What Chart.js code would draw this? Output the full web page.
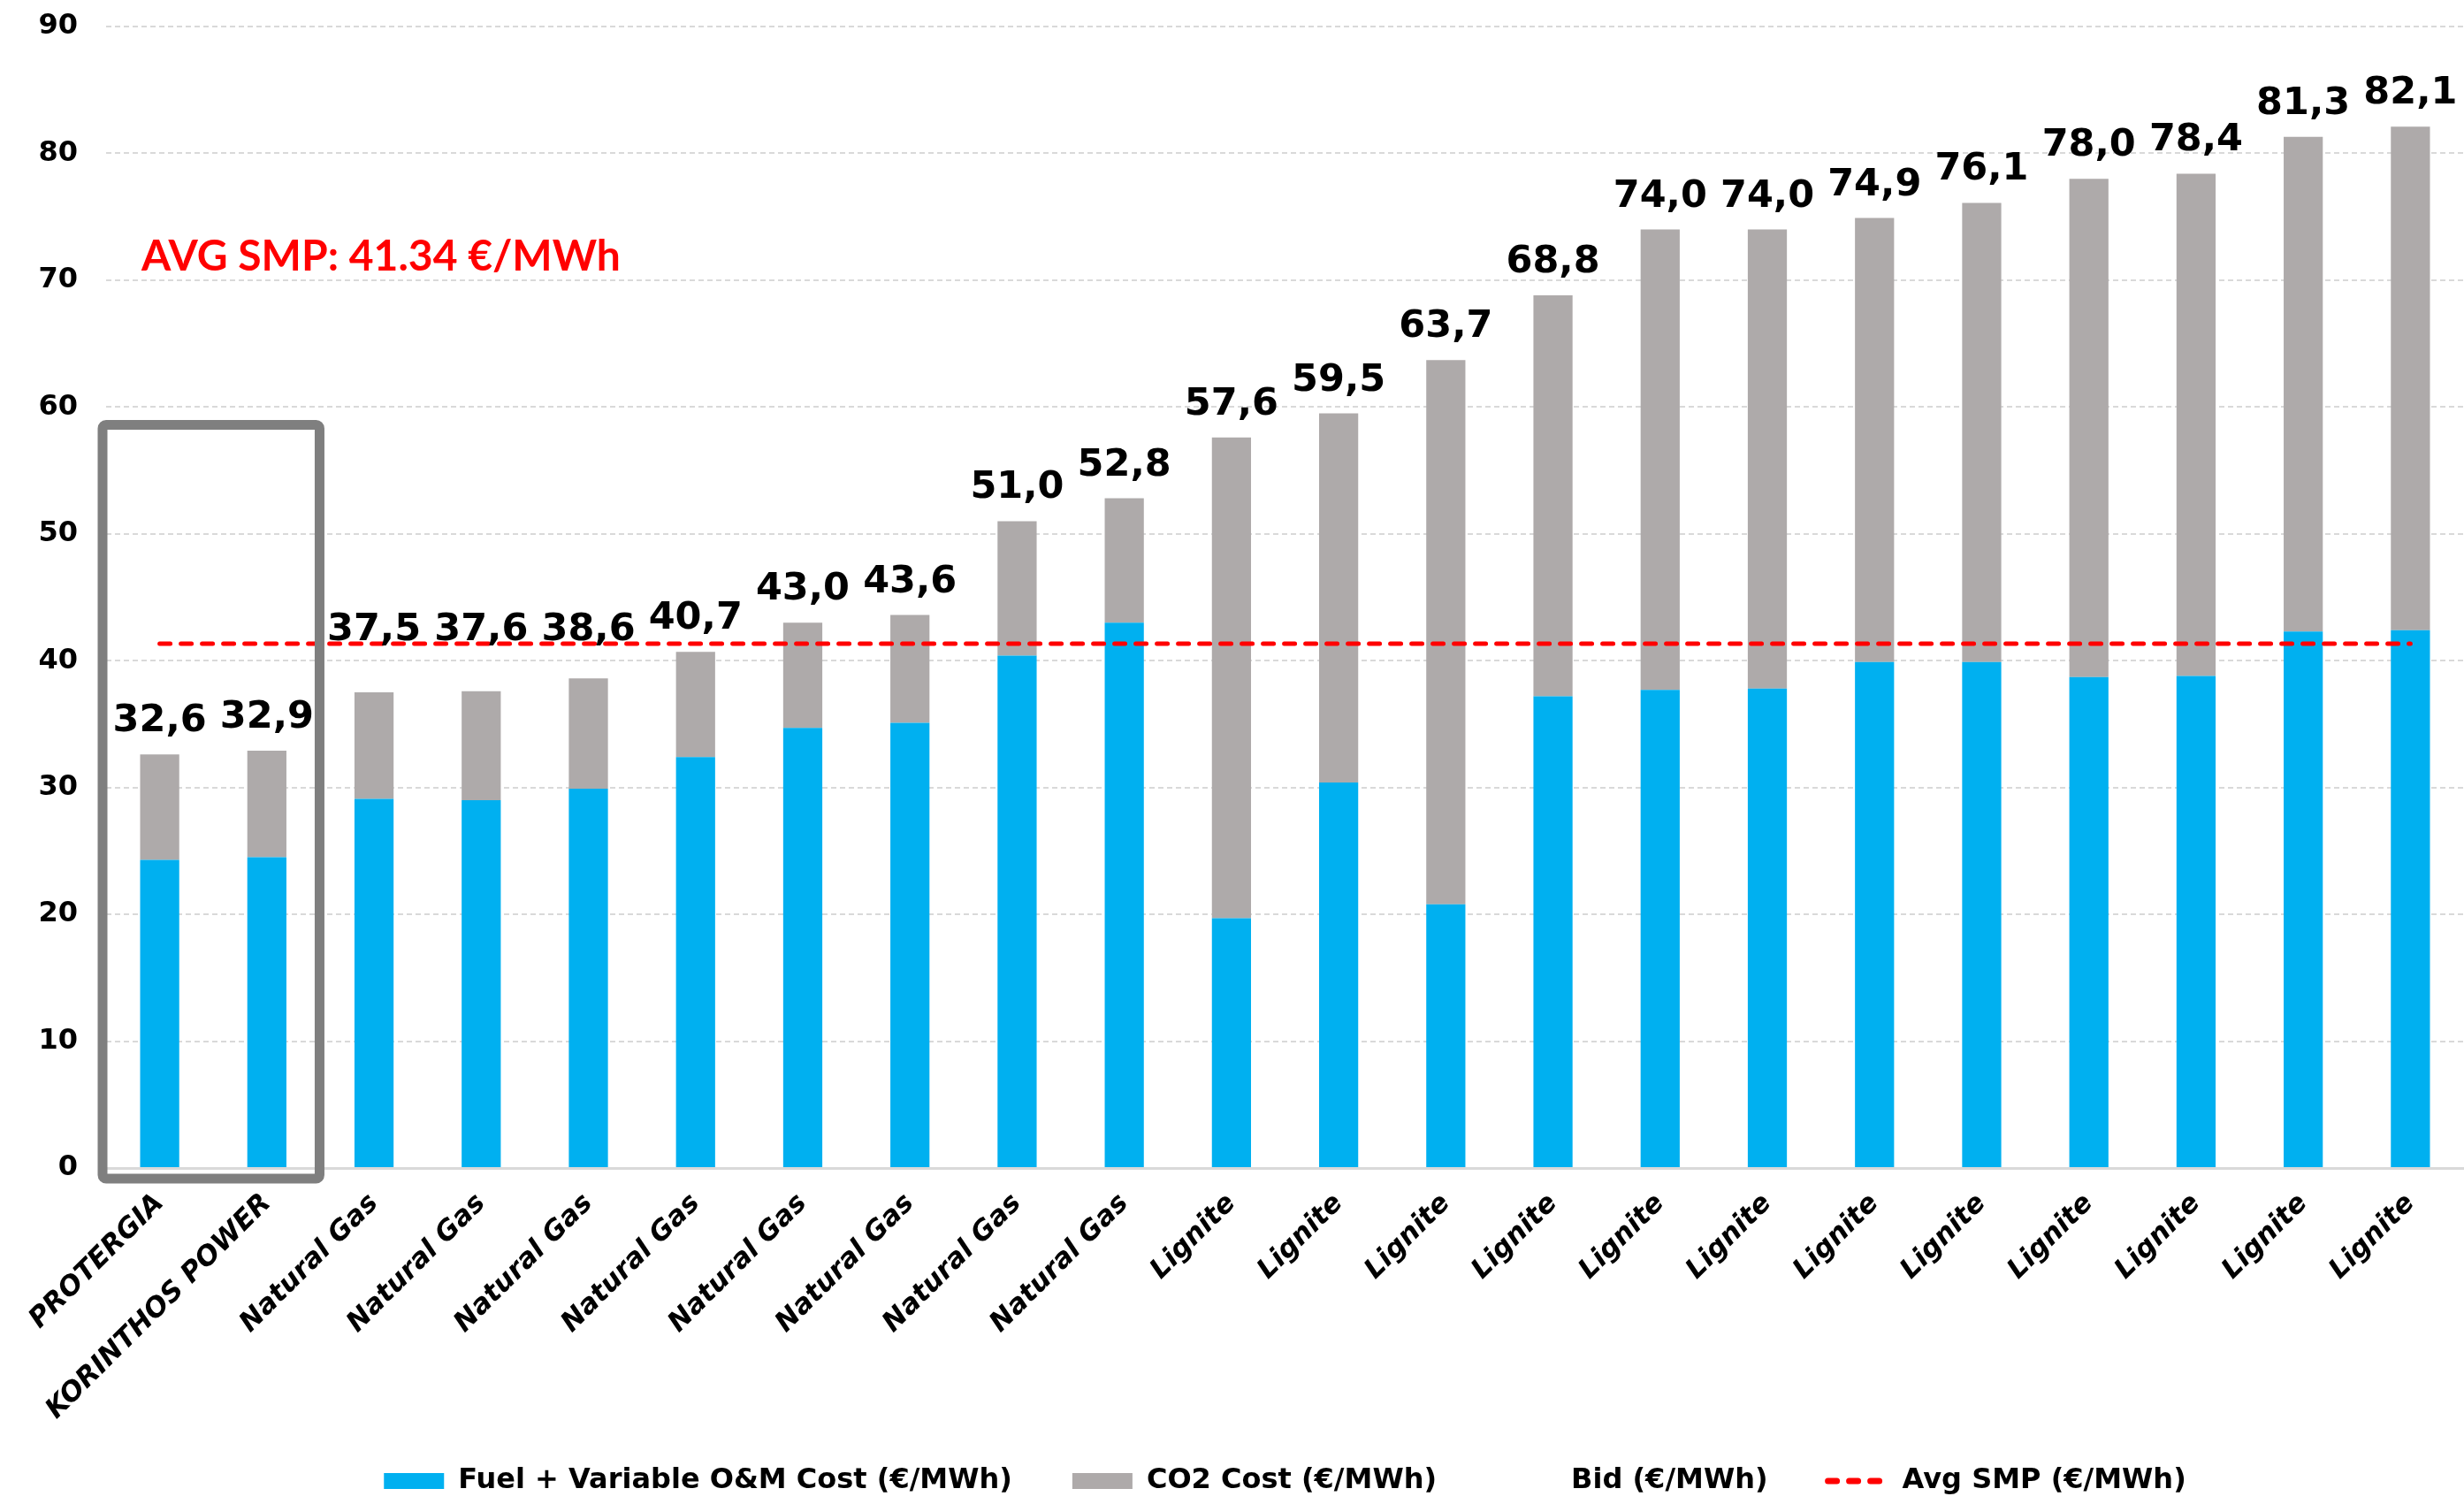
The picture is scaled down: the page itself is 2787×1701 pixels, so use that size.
<!DOCTYPE html>
<html>
<head>
<meta charset="utf-8">
<style>
  html, body { margin: 0; padding: 0; background: #ffffff; }
  #wrap { width: 2787px; height: 1701px; }
</style>
<script src="https://cdn.jsdelivr.net/npm/chart.js@4/dist/chart.umd.min.js"></script>
</head>
<body>
<div id="wrap"><canvas id="c" width="2787" height="1701"></canvas></div>
<script>
// ---- data ----
const categories = ['PROTERGIA', 'KORINTHOS POWER', 'Natural Gas', 'Natural Gas', 'Natural Gas', 'Natural Gas',
  'Natural Gas', 'Natural Gas', 'Natural Gas', 'Natural Gas', 'Lignite', 'Lignite', 'Lignite', 'Lignite',
  'Lignite', 'Lignite', 'Lignite', 'Lignite', 'Lignite', 'Lignite', 'Lignite', 'Lignite'];
const fuelCost = [24.3, 24.5, 29.1, 29.0, 29.9, 32.4, 34.7, 35.1, 40.4, 43.0, 19.7, 30.4, 20.8, 37.2,
  37.7, 37.8, 39.9, 39.9, 38.7, 38.8, 42.3, 42.4];
const co2Cost = [8.3, 8.4, 8.4, 8.6, 8.7, 8.3, 8.3, 8.5, 10.6, 9.8, 37.9, 29.1, 42.9, 31.6,
  36.3, 36.2, 35.0, 36.2, 39.3, 39.6, 39.0, 39.7];
const bid = [32.6, 32.9, 37.5, 37.6, 38.6, 40.7, 43.0, 43.6, 51.0, 52.8, 57.6, 59.5, 63.7, 68.8,
  74.0, 74.0, 74.9, 76.1, 78.0, 78.4, 81.3, 82.1];
const avgSmp = 41.34;
const avgSmpSeries = categories.map(() => avgSmp);
const yTicks = [0, 10, 20, 30, 40, 50, 60, 70, 80, 90];
const seriesNames = ['Fuel + Variable O&M Cost (€/MWh)', 'CO2 Cost (€/MWh)', 'Bid (€/MWh)', 'Avg SMP (€/MWh)'];
const smpText = 'AVG SMP: 41.34 €/MWh';
const highlightCats = [0, 1];      // boxed categories
const highlightTop = 58.6;        // top of the box, in axis units
const smpTextValue = 70.75;       // baseline of the AVG SMP text, in axis units

const BLUE = '#00B0F0', GREY = '#AEAAAA', RED = '#FF0000';
const GAP = '\u2002\u2002\u2002';

const fmt = v => v.toFixed(1).replace('.', ',');

const overlayPlugin = {
  id: 'overlay',
  afterDatasetsDraw(chart) {
    const ctx = chart.ctx;
    const xs = chart.scales.x, ys = chart.scales.y;
    const step = xs.getPixelForValue(1) - xs.getPixelForValue(0);
    // highlight box
    ctx.save();
    const bx0 = xs.getPixelForValue(highlightCats[0]) - step / 2 - 4;
    const bx1 = xs.getPixelForValue(highlightCats[highlightCats.length - 1]) + step / 2 - 1;
    const by0 = ys.getPixelForValue(highlightTop);
    const by1 = ys.getPixelForValue(0) + 12;
    ctx.strokeStyle = '#7F7F7F';
    ctx.lineWidth = 11;
    ctx.lineJoin = 'round';
    ctx.beginPath();
    if (ctx.roundRect) ctx.roundRect(bx0, by0, bx1 - bx0, by1 - by0, 4); else ctx.rect(bx0, by0, bx1 - bx0, by1 - by0);
    ctx.stroke();
    ctx.restore();

    // bid labels
    ctx.save();
    ctx.font = 'bold 43px "DejaVu Sans"';
    ctx.fillStyle = '#000000';
    ctx.textAlign = 'center';
    ctx.textBaseline = 'alphabetic';
    const lineY = ys.getPixelForValue(avgSmp);
    bid.forEach((v, i) => {
      const x = xs.getPixelForValue(i);
      let base = ys.getPixelForValue(v) - 26;
      const top = base - 32;
      if (lineY > top - 5 && lineY < base + 10) base = lineY - 4;
      ctx.fillText(fmt(v), x, base);
    });
    ctx.restore();

    // AVG SMP text
    ctx.save();
    ctx.font = 'bold 48px Lato';
    ctx.fillStyle = RED;
    ctx.textAlign = 'left';
    ctx.textBaseline = 'alphabetic';
    ctx.fillText(smpText, xs.left + 40, ys.getPixelForValue(smpTextValue));
    ctx.restore();
  }
};

const chart = new Chart(document.getElementById('c'), {
  data: {
    labels: categories,
    datasets: [
      { type: 'bar', label: seriesNames[0], data: fuelCost, backgroundColor: BLUE, stack: 'cost', order: 2 },
      { type: 'bar', label: seriesNames[1], data: co2Cost, backgroundColor: GREY, stack: 'cost', order: 2 },
      { type: 'line', label: seriesNames[2], data: bid, stack: 'bid', showLine: false, pointRadius: 0,
        pointHoverRadius: 0, borderColor: 'rgba(0,0,0,0)', backgroundColor: 'rgba(0,0,0,0)', order: 1 },
      { type: 'line', label: seriesNames[3], data: avgSmpSeries, stack: 'smp', borderColor: RED, borderWidth: 5,
        borderDash: [12, 12], borderCapStyle: 'round', pointRadius: 0, pointHoverRadius: 0, fill: false, order: 0 }
    ]
  },
  options: {
    responsive: false,
    devicePixelRatio: 1,
    animation: false,
    layout: { padding: { top: 30, right: 0, bottom: 0, left: 0 } },
    datasets: { bar: { barPercentage: 0.365, categoryPercentage: 1.0 } },
    scales: {
      x: {
        stacked: true,
        grid: { display: false, drawTicks: false },
        border: { display: true, color: '#D9D9D9', width: 3 },
        ticks: {
          color: '#000000', minRotation: 45, maxRotation: 45, padding: 22, autoSkip: false,
          font: { family: '"DejaVu Sans"', weight: 'bold', style: 'italic', size: 31 }
        },
        afterFit(scale) { scale.height = 318; }
      },
      y: {
        stacked: true,
        min: 0, max: 90,
        afterBuildTicks(scale) { scale.ticks = yTicks.map(v => ({ value: v })); },
        grid: { color: '#D9D9D9', lineWidth: 2, drawTicks: true, tickLength: 32, tickColor: 'rgba(0,0,0,0)' },
        border: { display: false, dash: [6, 4] },
        ticks: { color: '#000000', padding: 0, font: { family: '"DejaVu Sans"', weight: 'bold', size: 32 } },
        afterFit(scale) { scale.width = 120; }
      }
    },
    plugins: {
      tooltip: { enabled: false },
      legend: {
        position: 'bottom',
        fullSize: false,
        labels: {
          usePointStyle: true,
          pointStyleWidth: 68,
          boxHeight: 18,
          padding: 20,
          color: '#000000',
          font: { family: '"DejaVu Sans"', weight: 'bold', size: 32 },
          generateLabels(chart) {
            const ds = chart.data.datasets;
            return [
              { text: ds[0].label + GAP, fillStyle: BLUE, strokeStyle: BLUE, lineWidth: 0, pointStyle: 'rect', datasetIndex: 0, hidden: false, fontColor: '#000' },
              { text: ds[1].label + GAP, fillStyle: GREY, strokeStyle: GREY, lineWidth: 0, pointStyle: 'rect', datasetIndex: 1, hidden: false, fontColor: '#000' },
              { text: ds[2].label + GAP, fillStyle: 'rgba(0,0,0,0)', strokeStyle: 'rgba(0,0,0,0)', lineWidth: 0, pointStyle: 'rect', datasetIndex: 2, hidden: false, fontColor: '#000' },
              { text: ds[3].label, fillStyle: 'rgba(0,0,0,0)', strokeStyle: RED, lineWidth: 7, lineDash: [10, 14], lineCap: 'round', pointStyle: 'line', datasetIndex: 3, hidden: false, fontColor: '#000' }
            ];
          }
        }
      }
    }
  },
  plugins: [overlayPlugin]
});
</script>
</body>
</html>
